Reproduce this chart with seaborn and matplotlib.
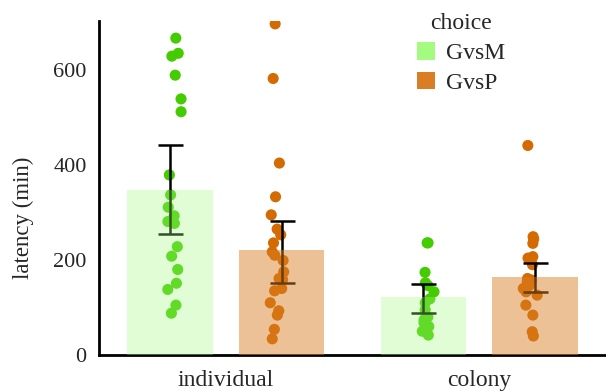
import numpy as np
import pandas as pd
import matplotlib
matplotlib.use("Agg")
import matplotlib.pyplot as plt
from matplotlib.patches import Patch
import seaborn as sns

# ---- data ----
conditions = ["individual", "colony"]
choices = ["GvsM", "GvsP"]

ind_gvsm = [667, 635, 629, 589, 539, 512, 379, 337, 311, 293, 281, 277,
            228, 208, 180, 151, 138, 105, 88]
ind_gvsp = [697, 582, 404, 333, 295, 265, 253, 236, 217, 210, 199, 175,
            161, 159, 140, 135, 110, 93, 84, 54, 34]
col_gvsm = [236, 236, 174, 152, 146, 133, 118, 110, 95, 80, 74, 68, 60, 50, 42]
col_gvsp = [441, 249, 244, 235, 207, 204, 190, 161, 158, 154, 146, 140,
            133, 126, 105, 84, 49, 40]

bar_condition = ["individual", "individual", "colony", "colony"]
bar_choice = ["GvsM", "GvsP", "GvsM", "GvsP"]
bar_mean = [347, 220, 122, 164]
err_low = [255, 152, 89, 132]
err_high = [441, 281, 150, 194]

y_ticks = [0, 200, 400, 600]

# ---- styles ----
point_colors = {"GvsM": "#44cc00", "GvsP": "#d46b00"}
bar_colors = {"GvsM": "#a3fb7f", "GvsP": "#d97e25"}
bar_alpha = {"GvsM": 0.32, "GvsP": 0.48}

sns.set_style("white")
plt.rcParams["font.family"] = ["Liberation Serif", "DejaVu Serif"]

points = pd.DataFrame({
    "condition": (["individual"] * len(ind_gvsm) + ["individual"] * len(ind_gvsp)
                  + ["colony"] * len(col_gvsm) + ["colony"] * len(col_gvsp)),
    "choice": (["GvsM"] * len(ind_gvsm) + ["GvsP"] * len(ind_gvsp)
               + ["GvsM"] * len(col_gvsm) + ["GvsP"] * len(col_gvsp)),
    "latency": ind_gvsm + ind_gvsp + col_gvsm + col_gvsp,
})
bars = pd.DataFrame({"condition": bar_condition, "choice": bar_choice,
                     "latency": bar_mean, "low": err_low, "high": err_high})

fig = plt.figure(figsize=(6.06, 3.91), dpi=100)
ax = fig.add_axes([99 / 606, 36 / 391, 1 - 99 / 606, (355 - 21) / 391])

np.random.seed(3)
sns.stripplot(data=points, x="condition", y="latency", hue="choice",
              order=conditions, hue_order=choices, palette=point_colors,
              dodge=True, jitter=0.06, size=8, linewidth=0, legend=False,
              ax=ax, zorder=1)

sns.barplot(data=bars, x="condition", y="latency", hue="choice",
            order=conditions, hue_order=choices, palette=bar_colors,
            saturation=1, width=0.88, gap=0.23, errorbar=None, legend=False,
            ax=ax)

for container, ch in zip(ax.containers, choices):
    for bar, cond in zip(container, conditions):
        bar.set_alpha(bar_alpha[ch])
        bar.set_zorder(3)
        bar.set_linewidth(0)
        row = bars[(bars.condition == cond) & (bars.choice == ch)].iloc[0]
        xc = bar.get_x() + bar.get_width() / 2
        ax.errorbar([xc], [row.latency],
                    yerr=[[row.latency - row.low], [row.high - row.latency]],
                    fmt="none", ecolor="black", elinewidth=1.8, capsize=9,
                    capthick=1.8, zorder=2)

ax.set_xlim(-0.5, 1.5)
ax.set_ylim(0, 703)
ax.set_yticks(y_ticks)
ax.set_xlabel("")
ax.set_ylabel("latency (min)", fontsize=16.5)
ax.yaxis.set_label_coords(-0.128, 0.41)
ax.tick_params(axis="both", length=0)
ax.tick_params(axis="x", labelsize=17, pad=11)
ax.tick_params(axis="y", labelsize=16, pad=9)
sns.despine(ax=ax)
for s in ["left", "bottom"]:
    ax.spines[s].set_color("black")
    ax.spines[s].set_linewidth(2)

handles = [Patch(facecolor=bar_colors[c], edgecolor="none") for c in choices]
leg = fig.legend(handles, choices, title="choice", frameon=False,
                 loc="upper left", bbox_to_anchor=(417 / 606, 1 - 13 / 391),
                 fontsize=17, title_fontsize=17, handlelength=0.78,
                 handleheight=0.78, handletextpad=0.45, labelspacing=0.33,
                 borderpad=0, borderaxespad=0)

fig.savefig("out.png", dpi=100)
